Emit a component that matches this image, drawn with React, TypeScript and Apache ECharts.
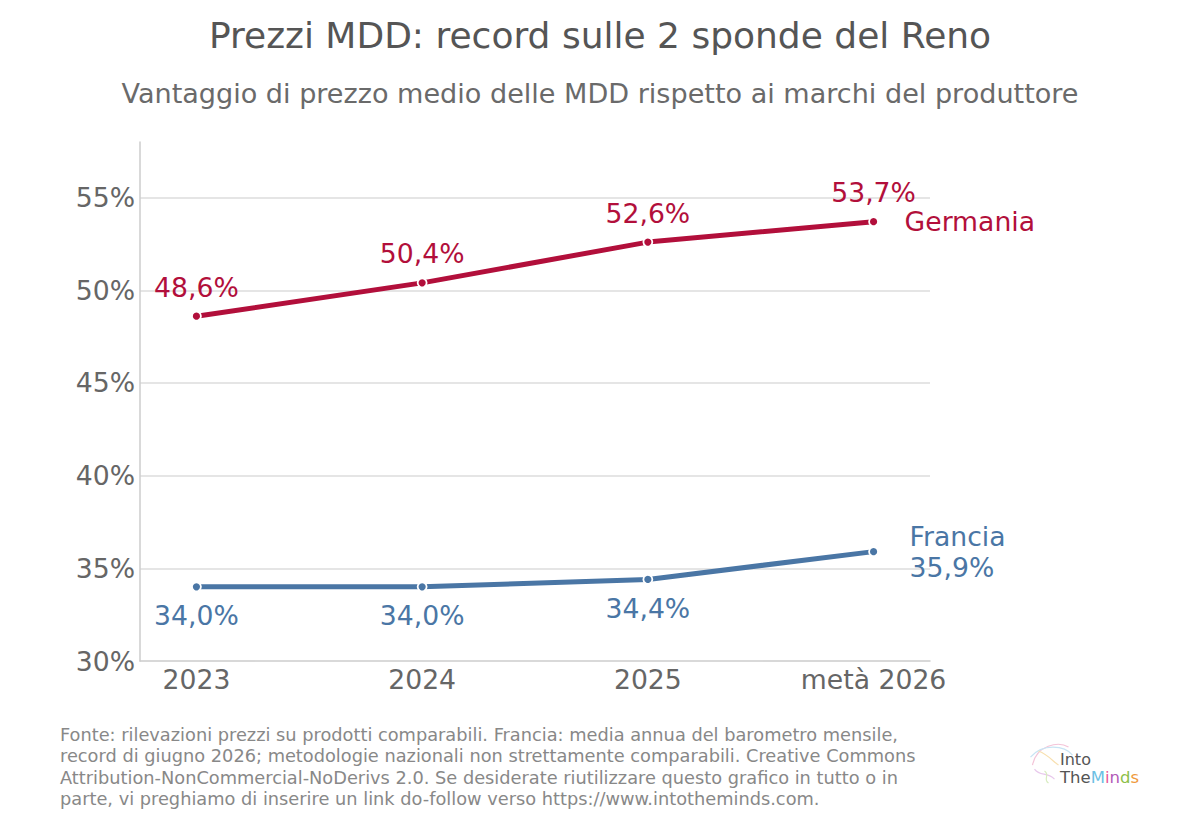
import React, { useEffect, useRef } from "react";
import * as echarts from "echarts";

const categories = ["2023", "2024", "2025", "metà 2026"];
const germaniaValues = [48.6, 50.4, 52.6, 53.7];
const franciaValues = [34.0, 34.0, 34.4, 35.9];
const germaniaLabels = ["48,6%", "50,4%", "52,6%", "53,7%"];
const franciaLabels = ["34,0%", "34,0%", "34,4%", "35,9%"];
const yTickValues = [30, 35, 40, 45, 50, 55];

const title = "Prezzi MDD: record sulle 2 sponde del Reno";
const subtitle = "Vantaggio di prezzo medio delle MDD rispetto ai marchi del produttore";
const footer =
  "Fonte: rilevazioni prezzi su prodotti comparabili. Francia: media annua del barometro mensile,\n" +
  "record di giugno 2026; metodologie nazionali non strettamente comparabili. Creative Commons\n" +
  "Attribution-NonCommercial-NoDerivs 2.0. Se desiderate riutilizzare questo grafico in tutto o in\n" +
  "parte, vi preghiamo di inserire un link do-follow verso https://www.intotheminds.com.";

const RED = "#b20f3b";
const BLUE = "#4a76a5";
const FONT = "DejaVu Sans";

export default function App() {
  const ref = useRef<HTMLDivElement>(null);
  useEffect(() => {
    if (!ref.current) return;
    const chart = echarts.init(ref.current, null, { renderer: "svg" });
    const fs = 26.67;
    chart.setOption({
      animation: false,
      backgroundColor: "#ffffff",
      textStyle: { fontFamily: FONT },
      title: [
        {
          text: title,
          left: "center",
          top: 12,
          textStyle: { fontFamily: FONT, fontSize: 36, fontWeight: "normal", color: "#555555" },
        },
        {
          text: subtitle,
          left: "center",
          top: 75,
          textStyle: { fontFamily: FONT, fontSize: 27.07, fontWeight: "normal", color: "#6a6a6a" },
        },
      ],
      grid: { left: 140, right: 270, top: 142, bottom: 168 },
      xAxis: {
        type: "value",
        min: -0.25,
        max: 3.25,
        interval: 0.25,
        axisLine: { show: true, lineStyle: { color: "#cccccc", width: 1.5 } },
        axisTick: { show: false },
        splitLine: { show: false },
        axisLabel: {
          interval: 0,
          margin: 5,
          fontSize: fs,
          color: "#666666",
          fontFamily: FONT,
          showMinLabel: true,
          showMaxLabel: true,
          formatter: (v: number) => (Number.isInteger(v) && v >= 0 && v < categories.length ? categories[v] : ""),
        },
      },
      yAxis: {
        type: "value",
        min: 30,
        max: 58,
        interval: 5,
        axisLine: { show: true, onZero: false, lineStyle: { color: "#cccccc", width: 1.5 } },
        axisTick: { show: false },
        splitLine: { show: true, showMaxLine: false, showMinLine: false, lineStyle: { color: "#dddddd", width: 1.5 } },
        axisLabel: {
          margin: 5,
          fontSize: fs,
          color: "#666666",
          fontFamily: FONT,
          showMaxLabel: false,
          formatter: (v: number) => (yTickValues.includes(v) ? `${v}%` : ""),
        },
      },
      series: [
        {
          name: "Germania",
          type: "line",
          data: germaniaValues.map((v, i) => [i, v]),
          symbol: "circle",
          symbolSize: 9,
          lineStyle: { color: RED, width: 5 },
          itemStyle: { color: RED, borderColor: "#ffffff", borderWidth: 1.8 },
          label: {
            show: true,
            position: "top",
            distance: 10,
            fontSize: fs,
            color: RED,
            fontFamily: FONT,
            formatter: (p: any) => germaniaLabels[p.dataIndex],
          },
          endLabel: {
            show: true,
            formatter: "Germania",
            distance: 31,
            fontSize: fs,
            color: RED,
            fontFamily: FONT,
          },
          z: 3,
        },
        {
          name: "Francia",
          type: "line",
          data: franciaValues.map((v, i) => ({
            value: [i, v],
            label: { show: i < franciaValues.length - 1 },
          })),
          symbol: "circle",
          symbolSize: 9,
          lineStyle: { color: BLUE, width: 5 },
          itemStyle: { color: BLUE, borderColor: "#ffffff", borderWidth: 1.8 },
          label: {
            show: true,
            position: "bottom",
            distance: 10,
            fontSize: fs,
            color: BLUE,
            fontFamily: FONT,
            formatter: (p: any) => franciaLabels[p.dataIndex],
          },
          endLabel: {
            show: true,
            formatter: "Francia\n" + franciaLabels[franciaLabels.length - 1],
            distance: 36,
            fontSize: fs,
            lineHeight: 31,
            color: BLUE,
            fontFamily: FONT,
          },
          z: 3,
        },
      ],
      graphic: [
        {
          type: "text",
          left: 60,
          top: 724,
          style: {
            text: footer,
            fontSize: 17.78,
            lineHeight: 21.3,
            fill: "#888888",
            fontFamily: FONT,
          },
        },
        {
          type: "group",
          left: 1028,
          top: 742,
          children: [
            { type: "bezierCurve", shape: { x1: 4, y1: 22, x2: 40, y2: 4, cpx1: 8, cpy1: 2, cpx2: 30, cpy2: -2 }, style: { stroke: "#f4c4d8", lineWidth: 1.2, fill: null } },
            { type: "bezierCurve", shape: { x1: 2, y1: 14, x2: 44, y2: 12, cpx1: 14, cpy1: 0, cpx2: 36, cpy2: 2 }, style: { stroke: "#c8e4f4", lineWidth: 1.2, fill: null } },
            { type: "bezierCurve", shape: { x1: 6, y1: 26, x2: 26, y2: 36, cpx1: 12, cpy1: 34, cpx2: 18, cpy2: 28 }, style: { stroke: "#e8c8ec", lineWidth: 1.2, fill: null } },
            { type: "bezierCurve", shape: { x1: 10, y1: 8, x2: 30, y2: 22, cpx1: 20, cpy1: 12, cpx2: 24, cpy2: 18 }, style: { stroke: "#f8e0b0", lineWidth: 1.2, fill: null } },
            { type: "bezierCurve", shape: { x1: 16, y1: 28, x2: 20, y2: 40, cpx1: 22, cpy1: 32, cpx2: 14, cpy2: 36 }, style: { stroke: "#d8ecc0", lineWidth: 1.2, fill: null } },
          ],
        },
        {
          type: "text",
          left: 1060,
          top: 751,
          style: { text: "Into", fontSize: 16, lineHeight: 14, fill: "#555555", fontFamily: FONT },
        },
        {
          type: "text",
          left: 1060,
          top: 769,
          style: {
            text: "{a|The}{m|M}{i|i}{n|n}{d|d}{s|s}",
            fontSize: 16.5,
            lineHeight: 14,
            fontFamily: FONT,
            rich: {
              a: { fill: "#555555", fontSize: 16.5, lineHeight: 14, fontFamily: FONT },
              m: { fill: "#6cc0e4", fontSize: 16.5, lineHeight: 14, fontFamily: FONT },
              i: { fill: "#e8559a", fontSize: 16.5, lineHeight: 14, fontFamily: FONT },
              n: { fill: "#b25ab8", fontSize: 16.5, lineHeight: 14, fontFamily: FONT },
              d: { fill: "#8dc04a", fontSize: 16.5, lineHeight: 14, fontFamily: FONT },
              s: { fill: "#f09a3c", fontSize: 16.5, lineHeight: 14, fontFamily: FONT },
            },
          },
        },
      ],
    });
    return () => chart.dispose();
  }, []);
  return <div ref={ref} style={{ width: 1200, height: 829, position: "absolute", left: 0, top: 0 }} />;
}
